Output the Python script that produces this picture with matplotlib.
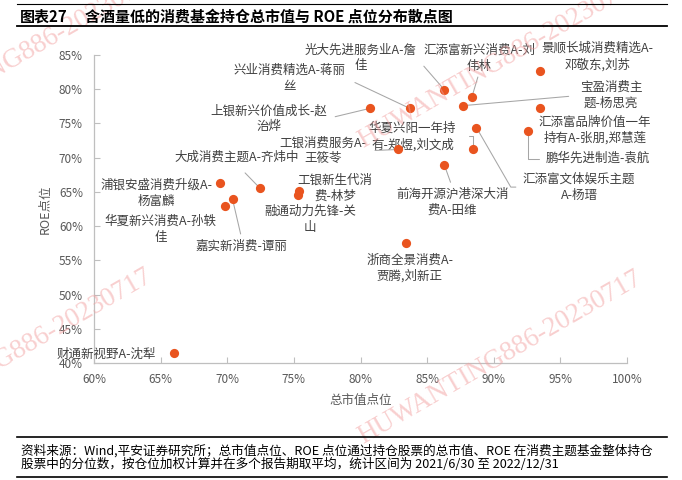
import matplotlib
matplotlib.use('Agg')
import matplotlib.pyplot as plt
from matplotlib.lines import Line2D
from matplotlib.ticker import FuncFormatter, MultipleLocator

plt.rcParams['font.family'] = ['Noto Sans CJK SC', 'DejaVu Sans']
plt.rcParams['axes.unicode_minus'] = False

# 基金名称、总市值点位(%)、ROE点位(%)
funds = ['财通新视野A-沈犁', '浦银安盛消费升级A-\n杨富麟', '华夏新兴消费A-孙轶\n佳',
         '嘉实新消费-谭丽', '大成消费主题A-齐炜中', '工银新生代消\n费-林梦',
         '融通动力先锋-关\n山', '上银新兴价值成长-赵\n治烨', '兴业消费精选A-蒋丽\n丝',
         '光大先进服务业A-詹\n佳', '汇添富新兴消费A-刘\n伟林', '景顺长城消费精选A-\n邓敬东,刘苏',
         '宝盈消费主\n题-杨思亮', '汇添富品牌价值一年\n持有A-张朋,郑慧莲', '鹏华先进制造-袁航',
         '汇添富文体娱乐主题\nA-杨瑨', '华夏兴阳一年持\n有-郑煜,刘文成', '工银消费服务A-\n王筱苓',
         '前海开源沪港深大消\n费A-田维', '浙商全景消费A-\n贾腾,刘新正']
mv_pct = [66.0, 69.45, 69.8, 70.4, 72.45, 75.4, 75.3, 80.7, 83.7, 86.3,
          88.35, 93.45, 87.7, 93.5, 92.6, 88.7, 88.45, 82.85, 86.3, 83.4]
roe_pct = [41.4, 66.3, 62.9, 63.9, 65.55, 65.2, 64.5, 77.2, 77.2, 79.9,
           78.8, 82.6, 77.6, 77.3, 73.9, 74.4, 71.2, 71.2, 68.9, 57.5]

# 标签中心位置（数据坐标）
label_x = [60.9, 64.7, 65.0, 71.1, 70.7, 78.1, 76.2, 73.1, 74.7, 80.0,
           88.9, 97.8, 98.8, 97.6, 97.8, 96.4, 83.9, 77.2, 86.9, 83.7]
label_y = [41.3, 64.8, 59.5, 57.1, 70.0, 65.5, 61.0, 75.7, 81.6, 84.6,
           84.5, 84.8, 79.1, 74.0, 69.85, 65.7, 73.1, 71.0, 63.5, 53.85]
# 引线: (relpos, shrinkA, connectionstyle) 或 None
leaders = [None, None, None,
           ((0.5, 1), 2, 'arc3'), ((0.5, 0), 6, 'arc3'), None, None,
           ((1, 0.5), 4, 'arc3'), ((1, 0.5), 5, 'arc3'), ((1, 0.5), 5, 'arc3'),
           ((0.5, 0), 1, 'arc3'), None, ((0, 0.5), 6, 'arc3'), None,
           ((0, 0.5), 3, 'angle,angleA=0,angleB=90,rad=0'),
           ((0, 0.5), 3, 'angle,angleA=0,angleB=-60,rad=0'),
           ((1, 0.5), 7, 'angle,angleA=0,angleB=90,rad=0'),
           ((1, 0.5), 4, 'arc3'), ((0.5, 1), 2, 'arc3'), None]

fig = plt.figure(figsize=(6.82, 4.8), dpi=100)
ax = fig.add_axes([94 / 682, 1 - 363 / 480, 533 / 682, 308 / 480])

ax.scatter(mv_pct, roe_pct, s=44, color='#E9541F', zorder=4, linewidths=0)

for name, x, y, tx, ty, ld in zip(funds, mv_pct, roe_pct, label_x, label_y, leaders):
    kw = {}
    if ld is not None:
        kw['arrowprops'] = dict(arrowstyle='-', color='#A6A6A6', lw=0.75,
                                relpos=ld[0], shrinkA=ld[1], shrinkB=0,
                                connectionstyle=ld[2])
    ax.annotate(name, xy=(x, y), xytext=(tx, ty), ha='center', va='center',
                fontsize=9, color='#404040', linespacing=1.3,
                annotation_clip=False, **kw)

ax.set_xlim(60, 100)
ax.set_ylim(40, 85)
ax.xaxis.set_major_locator(MultipleLocator(5))
ax.yaxis.set_major_locator(MultipleLocator(5))
pct = FuncFormatter(lambda v, p: f'{v:.0f}%')
ax.xaxis.set_major_formatter(pct)
ax.yaxis.set_major_formatter(pct)
ax.tick_params(direction='in', length=4, width=0.8, color='#BFBFBF',
               labelsize=8.5, labelcolor='#595959')
ax.tick_params(axis='x', pad=7)
ax.tick_params(axis='y', pad=8)
for s in ['top', 'right']:
    ax.spines[s].set_visible(False)
for s in ['left', 'bottom']:
    ax.spines[s].set_color('#BFBFBF')
    ax.spines[s].set_linewidth(0.9)
ax.set_xlabel('总市值点位', fontsize=9, color='#595959', labelpad=6)
ax.set_ylabel('ROE点位', fontsize=9, color='#595959', labelpad=5)

# 水印
wm = 'HUWANTING886-20230717'
for cx, cy in [(500, 62), (500, 358), (10, 356), (19, 57)]:
    fig.text(cx / 682, 1 - cy / 480, wm, rotation=30, ha='center', va='center',
             rotation_mode='anchor', fontsize=19.5, family='Liberation Serif',
             color='#F2A0A0', alpha=0.5, zorder=0)

# 标题与框线
fig.text(20 / 682, 1 - 16.7 / 480, '图表27', fontsize=10.8, weight='bold', va='center')
fig.text(85 / 682, 1 - 16.7 / 480, '含酒量低的消费基金持仓总市值与 ROE 点位分布散点图',
         fontsize=10.8, weight='bold', va='center')
for yy, lw in [(4, 0.8), (26, 1.3), (437, 1.2), (477, 1.2)]:
    fig.add_artist(Line2D([17 / 682, 667 / 682], [1 - yy / 480] * 2, lw=lw, color='black'))

fig.text(21 / 682, 1 - 450.5 / 480,
         '资料来源：Wind,平安证券研究所；总市值点位、ROE 点位通过持仓股票的总市值、ROE 在消费主题基金整体持仓',
         fontsize=9.1, va='center')
fig.text(21 / 682, 1 - 464.5 / 480,
         '股票中的分位数，按仓位加权计算并在多个报告期取平均，统计区间为 2021/6/30 至 2022/12/31',
         fontsize=9.1, va='center')

fig.savefig('out.png', dpi=100)
